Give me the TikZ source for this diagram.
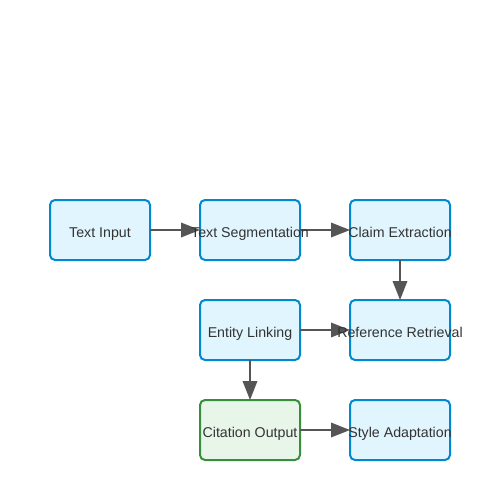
\documentclass[tikz,border=0pt]{standalone}
\usepackage{fontspec}
\setmainfont{Liberation Sans}
\usetikzlibrary{arrows.meta}
\definecolor{bfill}{HTML}{E1F5FE}
\definecolor{bdraw}{HTML}{0288D1}
\definecolor{gfill}{HTML}{E8F5E9}
\definecolor{gdraw}{HTML}{388E3C}
\definecolor{arr}{HTML}{555555}
\definecolor{txt}{HTML}{333333}
\begin{document}
\begin{tikzpicture}[x=1pt,y=-1pt,
  box/.style={draw=bdraw,fill=bfill,line width=2pt,rounded corners=5pt,minimum width=100pt,minimum height=60pt,inner sep=0pt,outer sep=0pt},
  gbox/.style={box,draw=gdraw,fill=gfill},
  lbl/.style={text=txt,font=\fontsize{14.2pt}{16pt}\selectfont,inner sep=0pt,anchor=base},
  conn/.style={draw=arr,line width=2pt,-{Triangle[length=19pt,width=14.5pt]}}]
\useasboundingbox (0,0) rectangle (500,500);
\node[box] (tin) at (100,230) {};
\node[box] (seg) at (250,230) {};
\node[box] (cla) at (400,230) {};
\node[box] (ent) at (250,330) {};
\node[box] (ref) at (400,330) {};
\node[gbox] (cit) at (250,430) {};
\node[box] (sty) at (400,430) {};
\draw[conn] (tin.east) -- (seg.west);
\draw[conn] (seg.east) -- (cla.west);
\draw[conn] (cla.south) -- (ref.north);
\draw[conn] (ent.east) -- (ref.west);
\draw[conn] (ent.south) -- (cit.north);
\draw[conn] (cit.east) -- (sty.west);
\node[lbl] (tinL) at ([yshift=-7pt]tin.center) {Text Input};
\node[lbl] (segL) at ([yshift=-7pt]seg.center) {Text Segmentation};
\node[lbl] (claL) at ([yshift=-7pt]cla.center) {Claim Extraction};
\node[lbl] (entL) at ([yshift=-7pt]ent.center) {Entity Linking};
\node[lbl] (refL) at ([yshift=-7pt]ref.center) {Reference Retrieval};
\node[lbl] (citL) at ([yshift=-7pt]cit.center) {Citation Output};
\node[lbl] (styL) at ([yshift=-7pt]sty.center) {Style Adaptation};
\end{tikzpicture}
\end{document}
